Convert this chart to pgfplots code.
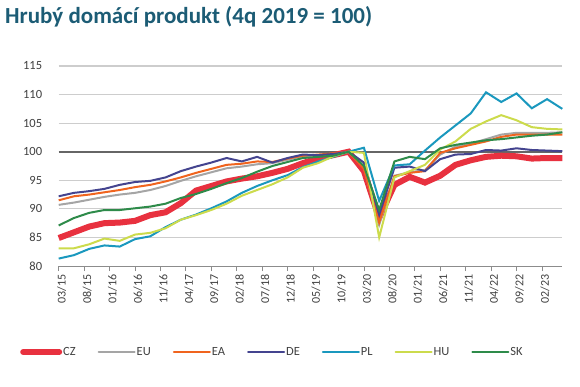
\documentclass[border=0pt]{standalone}
\usepackage{fontspec}
\setmainfont{Carlito}
\usepackage{pgfplots}
\usepackage{pgfplotstable}
\pgfplotsset{compat=1.18}
\definecolor{cCZ}{RGB}{232,49,63}
\definecolor{cEU}{RGB}{165,165,165}
\definecolor{cEA}{RGB}{240,100,30}
\definecolor{cDE}{RGB}{68,68,143}
\definecolor{cPL}{RGB}{26,152,190}
\definecolor{cHU}{RGB}{204,219,76}
\definecolor{cSK}{RGB}{46,139,74}
\definecolor{ctitle}{RGB}{28,92,117}
\definecolor{ctext}{RGB}{64,64,64}
\definecolor{cgrid}{RGB}{205,205,205}
\pgfplotstableread{
x CZ EU EA DE PL HU SK
0 84.9 90.7 91.5 92.2 81.3 83.1 87.1
3 85.9 91.1 92.2 92.8 81.9 83.1 88.4
6 86.9 91.6 92.5 93.1 83.0 83.8 89.3
9 87.5 92.1 92.9 93.5 83.6 84.8 89.8
12 87.6 92.5 93.3 94.2 83.4 84.4 89.8
15 87.9 92.8 93.8 94.7 84.7 85.5 90.1
18 88.9 93.3 94.2 94.9 85.2 85.8 90.4
21 89.4 94.0 94.8 95.5 86.8 86.6 90.9
24 91.0 94.9 95.5 96.6 88.1 88.1 91.9
27 93.2 95.7 96.3 97.4 89.0 88.9 92.6
30 94.0 96.4 97.0 98.1 90.1 89.8 93.5
33 94.8 97.1 97.7 98.9 91.3 90.9 94.5
36 95.3 97.4 97.9 98.3 92.8 92.3 95.4
39 95.7 97.8 98.3 99.1 94.0 93.3 96.5
42 96.3 98.0 98.2 98.1 95.0 94.3 97.5
45 97.0 98.6 98.8 98.9 95.9 95.5 98.2
48 98.0 99.2 99.3 99.5 97.3 97.2 98.9
51 98.9 99.4 99.5 99.4 98.3 98.0 99.1
54 99.4 99.6 99.7 99.6 99.1 99.2 99.3
57 100.0 100.0 100.0 100.0 100.0 100.0 100.0
60 96.6 97.2 97.0 98.1 100.7 99.8 97.5
63 88.4 87.2 87.6 89.0 91.4 85.0 89.8
66 94.2 95.8 95.7 97.2 97.6 95.5 98.3
69 95.6 96.4 96.3 97.4 97.8 96.6 99.1
72 94.6 96.8 96.6 96.6 100.2 97.7 98.7
75 95.8 99.5 99.8 98.7 102.5 100.4 100.6
78 97.7 100.9 100.6 99.5 104.6 101.8 101.2
81 98.5 101.4 101.2 99.6 106.7 104.0 101.6
84 99.1 102.2 101.8 100.3 110.4 105.3 102.0
87 99.3 103.0 102.6 100.2 108.7 106.4 102.2
90 99.2 103.3 103.0 100.6 110.2 105.5 102.5
93 98.8 103.3 103.0 100.3 107.6 104.3 102.8
96 98.9 103.3 103.0 100.2 109.2 104.0 103.0
99 98.9 103.4 103.0 100.1 107.5 103.9 103.4
}\gdp
\begin{document}
\begin{tikzpicture}
\useasboundingbox (0,0) rectangle (580pt,386pt);
\node[anchor=base west, font=\fontsize{23}{26}\selectfont\bfseries, text=ctitle, inner sep=0pt] at (5pt,362pt) {Hrubý domácí produkt (4q 2019 = 100)};
\begin{axis}[
  at={(58.7pt,120pt)}, anchor=south west,
  scale only axis, width=503.6pt, height=200pt,
  xmin=0, xmax=99, ymin=80, ymax=115,
  ytick={80,85,...,115},
  xtick={0,5,...,95},
  xticklabels={03/15,08/15,01/16,06/16,11/16,04/17,09/17,02/18,07/18,12/18,05/19,10/19,03/20,08/20,01/21,06/21,11/21,04/22,09/22,02/23},
  x tick label style={rotate=90, anchor=east, font=\fontsize{12}{14}\selectfont, text=ctext},
  y tick label style={font=\fontsize{12.5}{14}\selectfont, text=ctext},
  /pgf/number format/assume math mode=true,
  xticklabel style={yshift=-3pt},
  yticklabel style={xshift=-8pt},
  axis x line*=bottom, axis y line*=left,
  x axis line style={draw=black!45, line width=0.8pt, -},
  y axis line style={draw=none},
  xtick style={draw=black!45, line width=0.8pt},
  ytick style={draw=none},
  major tick length=5pt,
  tick align=outside,
  legend columns=7,
  legend style={at={(axis description cs:-0.0768,-0.43)}, anchor=west, draw=none, fill=none, inner sep=0pt,
    font=\fontsize{12.5}{14}\selectfont, text=ctext,
    nodes={inner xsep=1pt},
    /tikz/every odd column/.append style={column sep=0pt},
    /tikz/every even column/.append style={column sep=21pt}},
  legend cell align=left,
  legend image code/.code={\draw[#1, line cap=round] (0pt,0pt) -- (36pt,0pt);},
  clip=false,
]
\pgfplotsinvokeforeach{85,90,95,105,110,115}{
  \addplot[draw=cgrid, line width=1.2pt, forget plot] coordinates {(0,#1) (99,#1)};
}
\addplot[draw=black!60, line width=2.2pt, forget plot] coordinates {(0,100) (99,100)};
\addplot[cCZ, line width=6pt] table[x=x,y=CZ]{\gdp};
\addlegendentry{CZ}
\addplot[cEU, line width=2pt] table[x=x,y=EU]{\gdp};
\addlegendentry{EU}
\addplot[cEA, line width=2pt] table[x=x,y=EA]{\gdp};
\addlegendentry{EA}
\addplot[cDE, line width=2pt] table[x=x,y=DE]{\gdp};
\addlegendentry{DE}
\addplot[cPL, line width=2pt] table[x=x,y=PL]{\gdp};
\addlegendentry{PL}
\addplot[cHU, line width=2pt] table[x=x,y=HU]{\gdp};
\addlegendentry{HU}
\addplot[cSK, line width=2pt] table[x=x,y=SK]{\gdp};
\addlegendentry{SK}
\end{axis}
\end{tikzpicture}
\end{document}
